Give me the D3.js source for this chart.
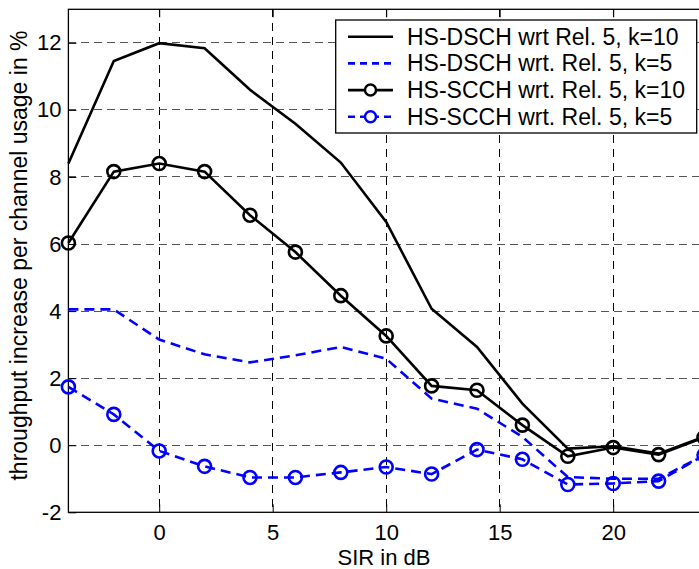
<!DOCTYPE html>
<html>
<head>
<meta charset="utf-8">
<script src="https://cdn.jsdelivr.net/npm/d3@7"></script>
<style>
  body{margin:0;background:#fff}
  svg{display:block;font-family:"Liberation Sans",Arial,sans-serif}
</style>
</head>
<body>
<svg id="chart" width="699" height="569"></svg>
<script>
// SIR values (dB)
const sir=[-4,-2,0,2,4,6,8,10,12,14,16,18,20,22,24]
// throughput increase per channel usage in %
const dschK10=[8.40,11.46,11.99,11.84,10.60,9.59,8.43,6.66,4.07,2.93,1.24,-0.10,-0.03,-0.25,0.25]
const dschK5=[4.05,4.05,3.15,2.71,2.47,2.68,2.93,2.58,1.39,1.09,0.25,-0.95,-1.0,-1.0,-0.3]
const scchK10=[6.03,8.16,8.40,8.16,6.86,5.76,4.46,3.26,1.77,1.64,0.60,-0.33,-0.07,-0.28,0.23]
const scchK5=[1.74,0.92,-0.17,-0.63,-0.96,-0.96,-0.81,-0.65,-0.86,-0.13,-0.42,-1.17,-1.14,-1.07,-0.3]
const xTicks=[0,5,10,15,20]
const yTicks=[-2,0,2,4,6,8,10,12]
const legendLabels=['HS-DSCH wrt Rel. 5, k=10','HS-DSCH wrt. Rel. 5, k=5','HS-SCCH wrt. Rel. 5, k=10','HS-SCCH wrt. Rel. 5, k=5']

const svg=d3.select('#chart')
const pLeft=68.4,pRight=704,pTop=9.3,pBottom=512.3
const x=d3.scaleLinear().domain([-4,24]).range([pLeft,pRight])
const y=d3.scaleLinear().domain([-2,13]).range([pBottom,pTop])

//网格
const grid=svg.append('g').attr('shape-rendering','crispEdges')
grid.selectAll('line.gx').data(xTicks).enter().append('line')
  .attr('x1',d=>x(d)).attr('x2',d=>x(d)).attr('y1',pTop).attr('y2',pBottom)
  .attr('stroke','#000').attr('stroke-dasharray','8,6')
grid.selectAll('line.gy').data(yTicks.filter(d=>d>-2)).enter().append('line')
  .attr('x1',pLeft).attr('x2',pRight).attr('y1',d=>y(d)).attr('y2',d=>y(d))
  .attr('stroke','#555').attr('stroke-dasharray','8,5')

//坐标轴
const fmt=d=>String(d)
function styleAxis(g){
  g.select('.domain').remove()
  g.selectAll('.tick line').attr('stroke','#000').attr('stroke-width',1)
  g.selectAll('.tick text').attr('font-size',22).attr('fill','#000').attr('font-family','"Liberation Sans",Arial,sans-serif')
}
svg.append('g').attr('transform',`translate(0,${pBottom})`)
  .call(d3.axisBottom(x).tickValues(xTicks).tickFormat(fmt).tickSize(-8).tickPadding(12))
  .call(styleAxis)
svg.append('g').attr('transform',`translate(0,${pTop})`)
  .call(d3.axisTop(x).tickValues(xTicks).tickSize(-8).tickFormat(''))
  .call(styleAxis)
svg.append('g').attr('transform',`translate(${pLeft},0)`)
  .call(d3.axisLeft(y).tickValues(yTicks).tickFormat(fmt).tickSize(-8).tickPadding(7))
  .call(styleAxis)
svg.append('rect').attr('x',pLeft).attr('y',pTop).attr('width',pRight-pLeft).attr('height',pBottom-pTop)
  .attr('fill','none').attr('stroke','#000').attr('stroke-width',1.3)

//数据线
const line=vals=>d3.line().x((d,i)=>x(sir[i])).y(d=>y(d))(vals)
const series=[
  {v:dschK10,color:'#000',dash:null,marker:false},
  {v:dschK5,color:'#0000ff',dash:'10,6',marker:false},
  {v:scchK10,color:'#000',dash:null,marker:true},
  {v:scchK5,color:'#0000ff',dash:'10,6',marker:true}
]
series.forEach(s=>{
  svg.append('path').attr('d',line(s.v)).attr('fill','none')
    .attr('stroke',s.color).attr('stroke-width',2.6)
    .attr('stroke-dasharray',s.dash)
  if(s.marker){
    svg.append('g').selectAll('circle').data(s.v).enter().append('circle')
      .attr('cx',(d,i)=>x(sir[i])).attr('cy',d=>y(d)).attr('r',6.5)
      .attr('fill','none').attr('stroke',s.color).attr('stroke-width',2.6)
  }
})

//图例
const lg=svg.append('g')
lg.append('rect').attr('x',335.7).attr('y',20).attr('width',361).attr('height',113)
  .attr('fill','#fff').attr('stroke','#000').attr('stroke-width',1.3)
legendLabels.forEach((t,i)=>{
  const s=series[i],cy=36.7+i*26.7
  lg.append('line').attr('x1',348).attr('x2',393).attr('y1',cy).attr('y2',cy)
    .attr('stroke',s.color).attr('stroke-width',2.6).attr('stroke-dasharray',s.dash?'7,5':null)
  if(s.marker){
    lg.append('circle').attr('cx',370.5).attr('cy',cy).attr('r',5.5)
      .attr('fill','#fff').attr('stroke',s.color).attr('stroke-width',2.5)
  }
  lg.append('text').attr('x',407).attr('y',cy).attr('dy','0.35em')
    .attr('font-size',23).text(t)
})

//坐标轴标题
svg.append('text').attr('x',384).attr('y',565).attr('text-anchor','middle')
  .attr('font-size',22).text('SIR in dB')
svg.append('text').attr('transform',`translate(27,255.5) rotate(-90)`)
  .attr('text-anchor','middle').attr('font-size',23)
  .text('throughput increase per channel usage in %')
</script>
</body>
</html>
